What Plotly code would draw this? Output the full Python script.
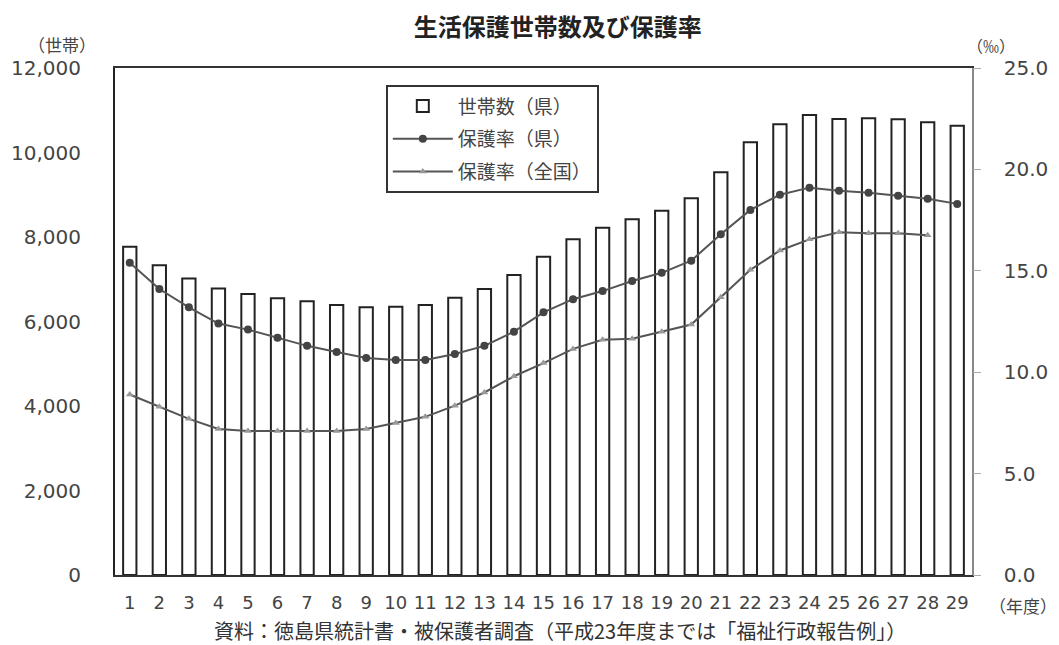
import plotly.graph_objects as go

# 年度 (平成)
years = [str(i) for i in range(1, 30)]

# 世帯数（県）
households = [7770, 7330, 7020, 6780, 6650, 6550, 6480, 6390, 6340, 6350,
              6390, 6560, 6770, 7100, 7535, 7945, 8220, 8420, 8620, 8915,
              9530, 10240, 10670, 10890, 10790, 10810, 10785, 10715, 10635]

# 保護率（県） ‰
rate_pref = [15.4, 14.1, 13.2, 12.4, 12.1, 11.7, 11.3, 11.0, 10.7, 10.6,
             10.6, 10.9, 11.3, 12.0, 12.95, 13.6, 14.0, 14.5, 14.9, 15.5,
             16.8, 18.0, 18.75, 19.1, 18.95, 18.85, 18.7, 18.55, 18.3]

# 保護率（全国） ‰ (29年度なし)
rate_nat = [8.9, 8.3, 7.7, 7.2, 7.1, 7.1, 7.1, 7.1, 7.2, 7.5,
            7.8, 8.35, 9.0, 9.8, 10.45, 11.15, 11.6, 11.65, 12.0, 12.35,
            13.7, 15.05, 16.0, 16.55, 16.9, 16.85, 16.85, 16.75]

JP = "Noto Sans CJK JP"
NUM = "DejaVu Sans"
TXT = "#444444"
CLEAR = "rgba(0,0,0,0)"

fig = go.Figure()

fig.add_trace(go.Bar(
    x=years, y=households, name="世帯数（県）", legendgroup="a",
    marker=dict(color="white", line=dict(color="#222222", width=2)),
    width=0.45,
))

fig.add_trace(go.Scatter(
    x=years, y=rate_pref, name="保護率（県）", yaxis="y2", legendgroup="b",
    mode="lines+markers",
    line=dict(color="#555555", width=2),
    marker=dict(symbol="circle", size=8, color="#444444"),
))

fig.add_trace(go.Scatter(
    x=years[:len(rate_nat)], y=rate_nat, name="保護率（全国）", yaxis="y2",
    legendgroup="c", mode="lines+markers",
    line=dict(color="#555555", width=2),
    marker=dict(symbol="triangle-up", size=7, color="#999999"),
))

# page body has an 8px margin, so the figure is a bit smaller than the window
fig.update_layout(
    width=1051, height=637,
    paper_bgcolor="white", plot_bgcolor="white",
    margin=dict(l=107, r=87, t=60, b=70),
    showlegend=True,
    title=dict(text="<b>生活保護世帯数及び保護率</b>", x=0.523, xanchor="center",
               y=0.970, yanchor="middle", font=dict(family=JP, size=24, color="#222222")),
    xaxis=dict(
        type="category", range=[-0.5, 28.5], automargin=False,
        showline=True, linecolor="#333333", linewidth=2,
        mirror=True, ticks="outside", ticklen=10, tickcolor=CLEAR, showgrid=False,
        tickfont=dict(family=NUM, size=18, color=TXT),
    ),
    yaxis=dict(
        range=[0, 12000], dtick=2000, tickformat=",", showgrid=False,
        automargin=False,
        showline=True, linecolor="#222222", linewidth=2,
        ticks="outside", ticklen=28, tickcolor=CLEAR,
        tickfont=dict(family=NUM, size=20, color=TXT), zeroline=False,
    ),
    yaxis2=dict(
        range=[0, 25], dtick=5, tickformat=".1f", overlaying="y", side="right",
        automargin=False,
        showgrid=False, showline=True, linecolor="#888888", linewidth=1.5,
        ticks="outside", ticklen=26, tickcolor=CLEAR,
        tickfont=dict(family=NUM, size=20, color=TXT), zeroline=False,
    ),
    yaxis3=dict(
        range=[0, 25], dtick=5, overlaying="y", side="right", automargin=False,
        showgrid=False, showline=False, showticklabels=False,
        ticks="outside", ticklen=8, tickcolor="#aaaaaa", zeroline=False,
    ),
    legend=dict(
        x=0.316, y=0.966, xanchor="left", yanchor="top",
        bgcolor="white", bordercolor="#333333", borderwidth=2,
        font=dict(family=JP, size=19, color=TXT),
        itemwidth=60, tracegroupgap=5,
    ),
)

# dummy trace so the third (tick-only) axis is drawn
fig.add_trace(go.Scatter(x=[years[0]], y=[None], yaxis="y3", showlegend=False,
                         hoverinfo="skip"))

fig.add_annotation(text="（世帯）", xref="paper", yref="paper", x=-0.062, y=1.047,
                   xanchor="center", yanchor="middle", showarrow=False,
                   font=dict(family=JP, size=17, color=TXT))
fig.add_annotation(text="（‰）", xref="paper", yref="paper", x=1.022, y=1.045,
                   xanchor="center", yanchor="middle", showarrow=False,
                   font=dict(family=JP, size=16, color=TXT))
fig.add_annotation(text="（年度）", xref="paper", yref="paper", x=1.060, y=-0.06,
                   xanchor="center", yanchor="middle", showarrow=False,
                   font=dict(family=JP, size=17, color=TXT))
fig.add_annotation(text="資料：徳島県統計書・被保護者調査（平成23年度までは「福祉行政報告例」）",
                   xref="paper", yref="paper", x=0.519, y=-0.110,
                   xanchor="center", yanchor="middle", showarrow=False,
                   font=dict(family=JP, size=20, color="#333333"))

fig.write_html("out.html")
